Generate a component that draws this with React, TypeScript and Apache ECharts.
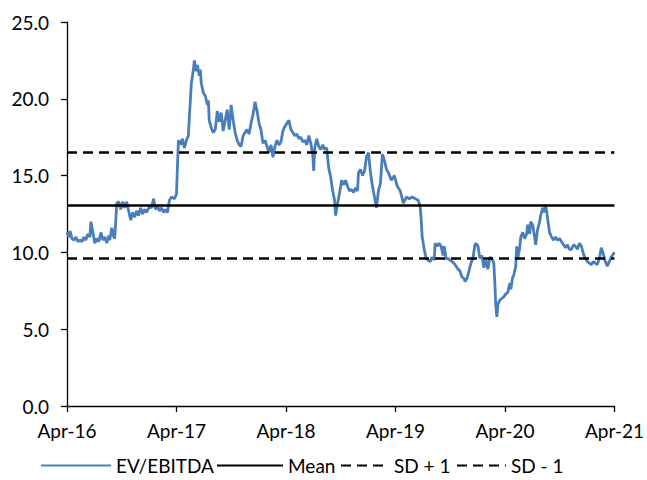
import React, { useEffect, useRef } from "react";
import * as echarts from "echarts";

// x = months since Apr-16
const xTickLabels = ["Apr-16", "Apr-17", "Apr-18", "Apr-19", "Apr-20", "Apr-21"];

const evMonths = [
  0, 0.22, 0.33, 0.55, 0.76, 0.98, 1.2, 1.42, 1.64, 1.85, 2.07, 2.29, 2.51, 2.62, 2.84, 3.05, 3.27, 3.49, 3.71, 3.93,
  4.14, 4.36, 4.58, 4.69, 4.91, 5.13, 5.23, 5.45, 5.67, 5.89, 6.11, 6.32, 6.54, 6.76, 6.98, 7.2, 7.42, 7.63, 7.85, 8.07,
  8.29, 8.51, 8.72, 9.05, 9.27, 9.49, 9.71, 9.92, 10.14, 10.36, 10.58, 10.8, 11.01, 11.23, 11.45, 11.78, 12.0, 12.1, 12.21, 12.43,
  12.65, 12.87, 13.09, 13.3, 13.41, 13.63, 13.85, 13.96, 14.18, 14.29, 14.5, 14.61, 14.72, 14.94, 15.16, 15.38, 15.49, 15.59, 15.81, 16.03,
  16.25, 16.47, 16.68, 16.9, 17.12, 17.34, 17.56, 17.78, 17.99, 18.21, 18.43, 18.65, 18.87, 19.08, 19.3, 19.52, 19.74, 19.96, 20.17, 20.39,
  20.61, 20.83, 21.05, 21.26, 21.48, 21.7, 21.92, 22.14, 22.36, 22.57, 22.79, 23.01, 23.23, 23.45, 23.66, 23.88, 24.1, 24.32, 24.54, 24.75,
  24.97, 25.19, 25.41, 25.63, 25.84, 26.06, 26.28, 26.5, 26.72, 26.94, 27.04, 27.15, 27.37, 27.59, 27.81, 28.03, 28.24, 28.46, 28.68, 28.9,
  29.12, 29.33, 29.44, 29.66, 29.88, 30.1, 30.32, 30.53, 30.75, 30.97, 31.19, 31.41, 31.62, 31.84, 31.95, 32.17, 32.39, 32.61, 32.82, 33.04,
  33.26, 33.48, 33.7, 33.91, 34.13, 34.35, 34.57, 34.79, 35.01, 35.22, 35.55, 35.88, 36.2, 36.53, 36.86, 37.19, 37.51, 37.84, 38.17, 38.49,
  38.71, 38.82, 38.93, 39.15, 39.37, 39.58, 39.8, 40.02, 40.24, 40.35, 40.57, 40.78, 41.0, 41.22, 41.33, 41.55, 41.77, 41.98, 42.2, 42.42,
  42.64, 42.86, 43.07, 43.29, 43.51, 43.62, 43.84, 44.06, 44.27, 44.49, 44.71, 44.82, 45.04, 45.26, 45.47, 45.69, 45.91, 46.13, 46.35, 46.56,
  46.78, 46.89, 47.0, 47.11, 47.22, 47.44, 47.66, 47.87, 48.09, 48.31, 48.53, 48.64, 48.85, 48.96, 49.18, 49.29, 49.4, 49.62, 49.73, 49.95,
  50.16, 50.38, 50.49, 50.71, 50.82, 51.04, 51.25, 51.36, 51.58, 51.8, 51.91, 52.13, 52.24, 52.45, 52.56, 52.67, 52.89, 53.11, 53.33, 53.54,
  53.76, 53.98, 54.2, 54.42, 54.64, 54.85, 55.07, 55.29, 55.51, 55.73, 55.94, 56.16, 56.38, 56.6, 56.82, 57.03, 57.25, 57.47, 57.69, 57.91,
  58.12, 58.34, 58.56, 58.78, 59.0, 59.22, 59.43, 59.65, 59.87, 60.0,
];

const evValues = [
  11.3, 11.0, 11.4, 10.9, 10.8, 11.0, 10.7, 10.8, 10.7, 11.0, 10.8, 11.2, 11.0, 12.0, 11.3, 10.6, 10.9, 10.7, 11.3, 10.8,
  11.0, 10.6, 11.1, 10.8, 11.6, 11.0, 10.9, 13.2, 13.3, 12.8, 13.3, 12.9, 13.3, 12.7, 12.1, 12.6, 12.3, 12.7, 12.4, 12.9,
  12.5, 12.8, 12.6, 13.0, 12.9, 13.5, 12.8, 13.0, 12.7, 12.9, 12.6, 12.8, 12.6, 13.4, 13.6, 13.5, 13.8, 15.5, 17.3, 17.0,
  17.4, 16.8, 17.3, 17.6, 18.8, 21.0, 21.9, 22.5, 21.8, 22.2, 21.5, 21.9, 21.0, 20.4, 20.2, 19.6, 19.9, 18.6, 18.1, 17.8,
  18.0, 19.2, 18.5, 19.1, 17.9, 18.6, 19.3, 18.0, 19.6, 18.6, 17.8, 17.3, 17.0, 16.9, 17.6, 17.8, 18.0, 17.7, 18.4, 19.0,
  19.8, 19.2, 18.4, 18.0, 17.1, 17.3, 16.9, 16.5, 17.0, 16.2, 16.9, 17.3, 17.0, 17.2, 17.9, 18.2, 18.4, 18.6, 18.0, 17.8,
  17.6, 17.7, 17.4, 17.5, 17.2, 17.3, 17.0, 17.6, 17.1, 16.3, 15.3, 16.8, 17.4, 16.9, 16.7, 17.0, 16.7, 16.8, 15.5, 14.9,
  14.0, 13.4, 12.4, 13.2, 13.9, 14.7, 14.4, 14.7, 14.3, 14.0, 14.1, 13.9, 14.2, 14.0, 15.2, 15.4, 15.0, 15.3, 16.2, 16.5,
  15.2, 14.3, 13.6, 12.9, 14.0, 14.5, 16.4, 16.0, 15.4, 15.2, 14.7, 15.0, 14.3, 14.0, 13.2, 13.6, 13.5, 13.6, 13.5, 13.4,
  13.0, 12.1, 11.0, 10.2, 9.6, 9.5, 9.4, 9.7, 9.5, 10.6, 10.4, 10.6, 10.4, 9.8, 10.4, 9.6, 9.6, 9.5, 9.4, 9.3,
  9.1, 8.9, 8.8, 8.4, 8.3, 8.1, 8.3, 8.8, 9.3, 9.6, 10.5, 10.6, 10.4, 9.6, 9.8, 9.0, 9.5, 8.9, 9.7, 9.6,
  9.3, 8.0, 6.5, 5.8, 6.6, 6.9, 7.0, 7.1, 7.3, 7.4, 8.0, 7.6, 8.4, 8.5, 9.1, 10.4, 9.6, 10.3, 11.0, 11.3,
  10.9, 11.2, 11.8, 11.2, 12.0, 11.8, 11.0, 10.5, 11.5, 12.0, 12.4, 12.9, 12.6, 13.1, 12.7, 12.2, 11.3, 11.0, 10.8, 11.0,
  10.8, 10.9, 10.7, 10.5, 10.3, 10.5, 10.2, 10.2, 10.5, 10.4, 10.2, 10.6, 10.4, 9.9, 9.6, 9.4, 9.3, 9.2, 9.4, 9.3,
  9.2, 9.6, 10.3, 9.9, 9.4, 9.1, 9.4, 9.7, 9.9, 10.0,
];

const meanValue = [13.05];
const sdPlusValue = [16.5];
const sdMinusValue = [9.6];
const rangeMonths = [0, 60];

const FONT = "Lato";
const TXT = "#000000";

export default function App() {
  const ref = useRef<HTMLDivElement>(null);
  useEffect(() => {
    if (!ref.current) return;
    const chart = echarts.init(ref.current, undefined, { renderer: "svg" });
    const flat = (v: number) => rangeMonths.map((m) => [m, v]);
    const legendBase = {
      top: 456,
      itemHeight: 14,
      itemGap: 0,
      padding: 0,
      itemStyle: { color: "rgba(0,0,0,0)", borderWidth: 0, opacity: 0 },
      textStyle: { fontFamily: FONT, fontSize: 19, color: TXT },
    };
    chart.setOption({
      animation: false,
      backgroundColor: "#ffffff",
      grid: { left: 67, right: 30, top: 22, bottom: 74 },
      legend: [
        { ...legendBase, left: 40, itemWidth: 70, data: ["EV/EBITDA"] },
        { ...legendBase, left: 216, itemWidth: 66, data: ["Mean"] },
        { ...legendBase, left: 340, itemWidth: 48, data: ["SD + 1"] },
        { ...legendBase, left: 456, itemWidth: 49, data: ["SD - 1"] },
      ],
      xAxis: {
        type: "value",
        min: 0,
        max: 60,
        interval: 12,
        splitLine: { show: false },
        axisLine: { show: true, lineStyle: { color: "#000", width: 1.3 } },
        axisTick: { show: true, length: 6, lineStyle: { color: "#000", width: 1.3 } },
        axisLabel: {
          margin: 15,
          fontFamily: FONT,
          fontSize: 19,
          color: TXT,
          formatter: (v: number) => xTickLabels[Math.round(v / 12)] ?? "",
        },
      },
      yAxis: {
        type: "value",
        min: 0,
        max: 25,
        interval: 5,
        splitLine: { show: false },
        axisLine: { show: true, lineStyle: { color: "#000", width: 1.3 } },
        axisTick: { show: true, length: 6, lineStyle: { color: "#000", width: 1.3 } },
        axisLabel: {
          margin: 18,
          fontFamily: FONT,
          fontSize: 19,
          color: TXT,
          formatter: (v: number) => v.toFixed(1),
        },
      },
      series: [
        {
          name: "EV/EBITDA",
          type: "line",
          symbol: "none",
          data: evMonths.map((m, i) => [m, evValues[i]]),
          lineStyle: { color: "#4A7EBB", width: 2.8 },
          itemStyle: { color: "#4A7EBB" },
        },
        {
          name: "Mean",
          type: "line",
          symbol: "none",
          data: flat(meanValue[0]),
          lineStyle: { color: "#000", width: 2.5 },
          itemStyle: { color: "#000" },
        },
        {
          name: "SD + 1",
          type: "line",
          symbol: "none",
          data: flat(sdPlusValue[0]),
          lineStyle: { color: "#000", width: 2.5, type: [10, 6] },
          itemStyle: { color: "#000" },
        },
        {
          name: "SD - 1",
          type: "line",
          symbol: "none",
          data: flat(sdMinusValue[0]),
          lineStyle: { color: "#000", width: 2.5, type: [10, 6] },
          itemStyle: { color: "#000" },
        },
      ],
    });
    return () => chart.dispose();
  }, []);
  return (
    <div
      ref={ref}
      style={{ position: "fixed", left: 0, top: 0, width: 647, height: 480, background: "#fff" }}
    />
  );
}
